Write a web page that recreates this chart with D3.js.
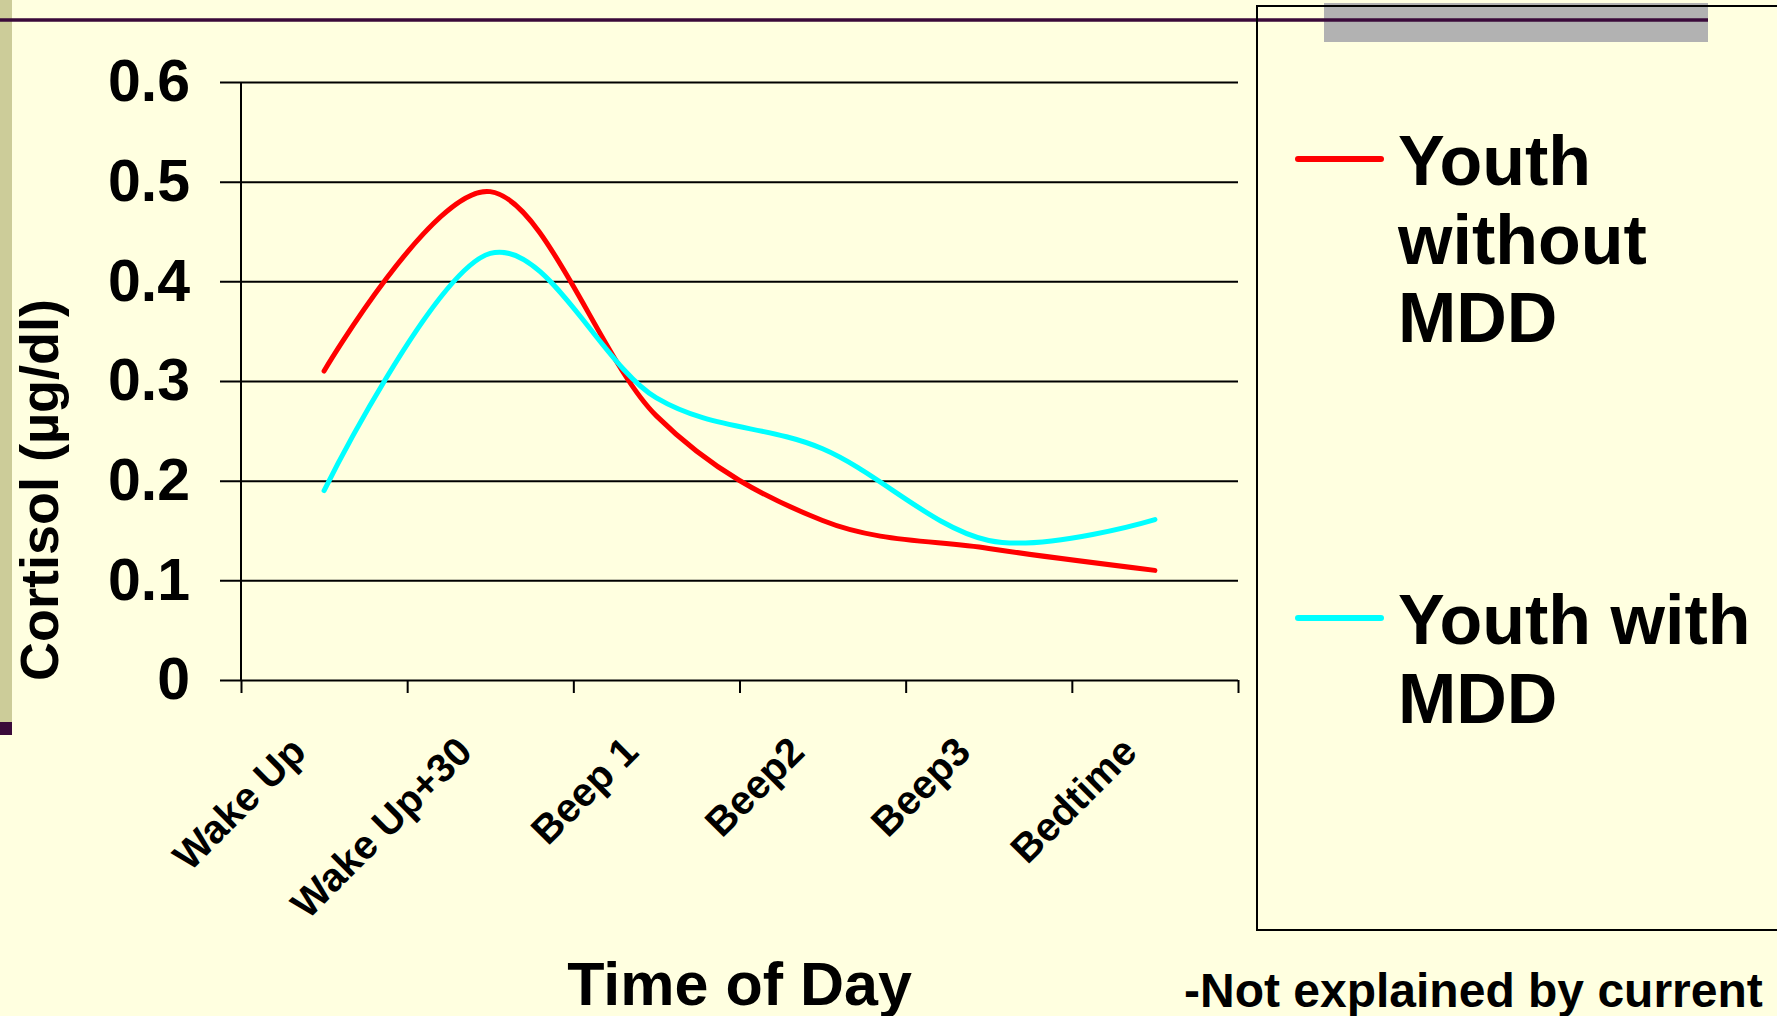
<!DOCTYPE html>
<html>
<head>
<meta charset="utf-8">
<script src="https://cdn.jsdelivr.net/npm/d3@7"></script>
<style>
  body { margin: 0; background: #ffffe0; }
  text { font-family: "Liberation Sans", Arial, sans-serif; font-weight: bold; fill: #000; }
</style>
</head>
<body>
<div class="canvas"></div>
<script>
// data
const categories = ['Wake Up', 'Wake Up+30', 'Beep 1', 'Beep2', 'Beep3', 'Bedtime'];
const withoutMDD = [0.31, 0.49, 0.265, 0.16, 0.132, 0.11];
const withMDD = [0.19, 0.428, 0.283, 0.232, 0.14, 0.161];
const yTicks = [0, 0.1, 0.2, 0.3, 0.4, 0.5, 0.6];
const seriesNames = [['Youth', 'without', 'MDD'], ['Youth with', 'MDD']];
const seriesColours = ['#ff0000', '#00ffff'];

const dims = { width: 1777, height: 1016 };
const plot = { left: 241, right: 1238, top: 82, bottom: 680 };

const svg = d3.select('.canvas')
  .append('svg')
  .attr('width', dims.width)
  .attr('height', dims.height)
  .style('display', 'block');

svg.append('rect')
  .attr('width', dims.width).attr('height', dims.height)
  .attr('fill', '#ffffe0');

// slide decoration
svg.append('rect').attr('x', 0).attr('y', 0).attr('width', 12).attr('height', 722).attr('fill', '#cccc99');
svg.append('rect').attr('x', 0).attr('y', 722).attr('width', 12).attr('height', 13).attr('fill', '#3a0a3a');
svg.append('rect').attr('x', 1324).attr('y', 3).attr('width', 384).attr('height', 39).attr('fill', '#b2b2b2');
svg.append('line')
  .attr('x1', 0).attr('x2', 1708).attr('y1', 20).attr('y2', 20)
  .attr('stroke', '#3a0a3a').attr('stroke-width', 3.5);

// scales
const x = d3.scaleBand()
  .domain(categories)
  .range([plot.left, plot.right]);

const xEdges = d3.scaleLinear()
  .domain([0, categories.length])
  .range([plot.left, plot.right]);

const y = d3.scaleLinear()
  .domain([0, 0.6])
  .range([plot.bottom, plot.top]);

const cx = d => x(d) + x.bandwidth() / 2;

// gridlines + y labels in one axis
const gridLen = plot.right - 220;
const yAxis = d3.axisLeft(y)
  .tickValues(yTicks)
  .tickSize(gridLen)
  .tickPadding(30)
  .tickFormat(d => d === 0 ? '0' : d3.format('.1f')(d));

const yG = svg.append('g')
  .attr('transform', `translate(${plot.right}, 0)`)
  .call(yAxis);
yG.select('.domain').remove();
yG.selectAll('line').attr('stroke', '#000').attr('stroke-width', 2);
yG.selectAll('text')
  .attr('font-size', 59)
  .attr('font-family', '"Liberation Sans", Arial, sans-serif')
  .attr('font-weight', 'bold')
  .attr('fill', '#000');

// y axis line
svg.append('line')
  .attr('x1', plot.left).attr('x2', plot.left)
  .attr('y1', plot.top).attr('y2', plot.bottom)
  .attr('stroke', '#000').attr('stroke-width', 2);

// x tick marks between categories
const xG = svg.append('g')
  .attr('transform', `translate(0, ${plot.bottom})`)
  .call(d3.axisBottom(xEdges).ticks(categories.length).tickSize(13).tickFormat(''));
xG.select('.domain').remove();
xG.selectAll('line').attr('stroke', '#000').attr('stroke-width', 2);

// rotated category labels
svg.append('g').selectAll('text')
  .data(categories)
  .enter()
  .append('text')
  .attr('text-anchor', 'end')
  .attr('font-size', 40)
  .attr('transform', d => `translate(${cx(d) - 16}, 754) rotate(-45)`)
  .text(d => d);

// axis titles
svg.append('text')
  .attr('text-anchor', 'middle')
  .attr('font-size', 54)
  .attr('transform', 'translate(58, 490) rotate(-90)')
  .text('Cortisol (µg/dl)');

svg.append('text')
  .attr('text-anchor', 'middle')
  .attr('font-size', 61)
  .attr('x', (plot.left + plot.right) / 2)
  .attr('y', 1005)
  .text('Time of Day');

// lines
const line = d3.line()
  .x((d, i) => cx(categories[i]))
  .y(d => y(d))
  .curve(d3.curveCardinal.tension(0));

[withoutMDD, withMDD].forEach((series, i) => {
  svg.append('path')
    .datum(series)
    .attr('d', line)
    .attr('fill', 'none')
    .attr('stroke', seriesColours[i])
    .attr('stroke-width', 5)
    .attr('stroke-linecap', 'round')
    .attr('stroke-linejoin', 'round');
});

// legend box
svg.append('rect')
  .attr('x', 1257).attr('y', 6)
  .attr('width', 600).attr('height', 924)
  .attr('fill', 'none')
  .attr('stroke', '#000').attr('stroke-width', 2);

const legendRows = [159, 618];
seriesNames.forEach((lines, i) => {
  svg.append('line')
    .attr('x1', 1298).attr('x2', 1381)
    .attr('y1', legendRows[i]).attr('y2', legendRows[i])
    .attr('stroke', seriesColours[i])
    .attr('stroke-width', 6)
    .attr('stroke-linecap', 'round');

  const t = svg.append('text')
    .attr('font-size', 70)
    .attr('x', 1398)
    .attr('y', legendRows[i] + 26);
  lines.forEach((s, j) => {
    t.append('tspan')
      .attr('x', 1398)
      .attr('dy', j === 0 ? 0 : 78.5)
      .text(s);
  });
});

svg.append('text')
  .attr('font-size', 48)
  .attr('x', 1184)
  .attr('y', 1007)
  .text('-Not explained by current');
</script>
</body>
</html>
